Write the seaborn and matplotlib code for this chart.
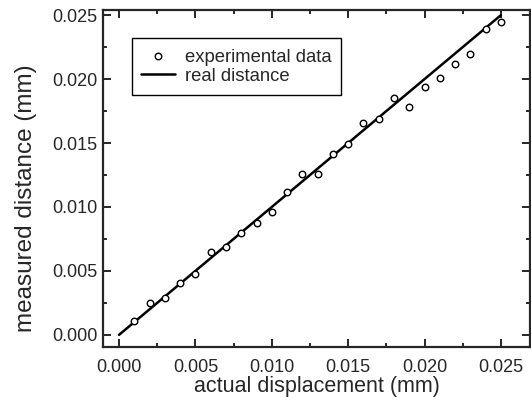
import matplotlib
matplotlib.use("Agg")
import matplotlib.pyplot as plt
import pandas as pd
import seaborn as sns
from matplotlib.ticker import AutoMinorLocator, MultipleLocator

actual_disp = [0.001, 0.002, 0.003, 0.004, 0.005, 0.006, 0.007, 0.008, 0.009, 0.010,
               0.011, 0.012, 0.013, 0.014, 0.015, 0.016, 0.017, 0.018, 0.019, 0.020,
               0.021, 0.022, 0.023, 0.024, 0.025]
measured = [0.00112, 0.00252, 0.00289, 0.00406, 0.00477, 0.00648, 0.00690, 0.00794, 0.00875, 0.00958,
            0.01115, 0.01255, 0.01260, 0.01414, 0.01492, 0.01659, 0.01687, 0.01850, 0.01780, 0.01940,
            0.02008, 0.02115, 0.02200, 0.02388, 0.02443]

# 真实距离直线
real_x = [0.0, 0.025]
real_y = [0.0, 0.025]

df = pd.DataFrame({"x": actual_disp, "y": measured})
line_df = pd.DataFrame({"x": real_x, "y": real_y})

sns.set_theme(style="ticks")
plt.rcParams["font.family"] = ["Liberation Sans", "DejaVu Sans"]
plt.rcParams["axes.linewidth"] = 1.6

fig = plt.figure(figsize=(5.31, 4.01), dpi=100)
ax = fig.add_axes([0.194, 0.135, 0.804, 0.84])

sns.scatterplot(data=df, x="x", y="y", ax=ax, marker="o", s=22,
                facecolor="white", edgecolor="black", linewidth=1.0,
                label="experimental data", zorder=3)
sns.lineplot(data=line_df, x="x", y="y", ax=ax, color="black", linewidth=1.8,
             label="real distance", zorder=2)

ax.set_xlim(-0.00105, 0.0269)
ax.set_ylim(-0.00094, 0.0254)
ax.xaxis.set_major_locator(MultipleLocator(0.005))
ax.yaxis.set_major_locator(MultipleLocator(0.005))
ax.xaxis.set_minor_locator(AutoMinorLocator(2))
ax.yaxis.set_minor_locator(AutoMinorLocator(2))
ax.xaxis.set_major_formatter(plt.FormatStrFormatter("%.3f"))
ax.yaxis.set_major_formatter(plt.FormatStrFormatter("%.3f"))

ax.tick_params(which="both", direction="in", top=True, right=True, labelsize=13, width=1.4)
ax.tick_params(which="major", length=6)
ax.tick_params(which="minor", length=3)
ax.tick_params(axis="x", pad=9)
ax.tick_params(axis="y", pad=4)

ax.set_xlabel("actual displacement (mm)", fontsize=15.5, labelpad=0)
ax.set_ylabel("measured distance (mm)", fontsize=17.5)
ax.yaxis.set_label_coords(-0.155, 0.44)

leg = ax.legend(loc="upper left", bbox_to_anchor=(0.068, 0.917), borderaxespad=0,
                fontsize=13.3, frameon=True, fancybox=False, edgecolor="black",
                framealpha=1, handlelength=1.8, handleheight=1.08, handletextpad=0.55,
                labelspacing=0.0, borderpad=0.5)
leg.get_frame().set_linewidth(1.0)

fig.savefig("out.png", dpi=100)
